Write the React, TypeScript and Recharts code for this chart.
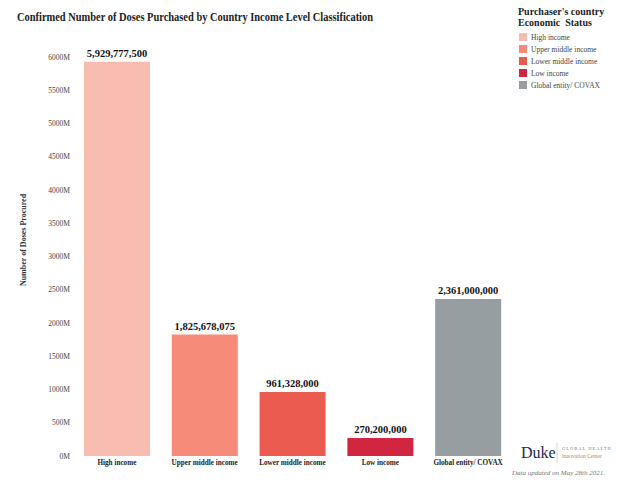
import { BarChart, Bar, XAxis, YAxis, Cell, LabelList } from 'recharts';

// 所得区分ごとの購入ドーズ数（百万単位）
const categories = ['High income', 'Upper middle income', 'Lower middle income', 'Low income', 'Global entity/ COVAX'];
const doses = [5929.7775, 1825.678075, 961.328, 270.2, 2361];
const doseLabels = ['5,929,777,500', '1,825,678,075', '961,328,000', '270,200,000', '2,361,000,000'];
const colors = ['#f8bcb0', '#f58b78', '#ec5b4f', '#d2253f', '#969ea2'];
const yTicks = [0, 500, 1000, 1500, 2000, 2500, 3000, 3500, 4000, 4500, 5000, 5500, 6000];

const data = categories.map((name, i) => ({ name, value: doses[i], label: doseLabels[i] }));

const serif = '"Liberation Serif", "DejaVu Serif", serif';

// 凡例（チャートの余白に影響しないよう外側に配置）
function LegendBox() {
  return (
    <div style={{ position: 'absolute', left: 518, top: 6, width: 120, fontFamily: serif }}>
      <div style={{ fontWeight: 'bold', fontSize: 10, lineHeight: '11px', color: '#222', marginBottom: 3 }}>
        Purchaser's country
        <br />
        Economic&nbsp; Status
      </div>
      {categories.map((c, i) => (
        <div key={c} style={{ display: 'flex', alignItems: 'center', height: 12 }}>
          <span style={{ display: 'inline-block', width: 8, height: 8, background: colors[i], marginRight: 4, marginLeft: 1 }} />
          <span style={{ fontSize: 7.5, color: '#444' }}>{c}</span>
        </div>
      ))}
    </div>
  );
}

export default function App() {
  return (
    <div style={{ position: 'absolute', left: 0, top: 0, width: 640, height: 489, background: '#fff', fontFamily: serif }}>
      <BarChart
        width={640}
        height={489}
        data={data}
        margin={{ top: 57, right: 128, bottom: 0, left: 0 }}
        barCategoryGap="12.5%"
      >
        <YAxis
          width={73}
          domain={[0, 6000]}
          ticks={yTicks}
          axisLine={false}
          tickLine={false}
          tickSize={0}
          tickMargin={3}
          tickFormatter={(v: number) => `${v}M`}
          tick={{ fontSize: 7.5, fill: '#444', fontFamily: serif }}
        />
        <XAxis
          dataKey="name"
          height={33}
          axisLine={false}
          tickLine={false}
          tickSize={0}
          tickMargin={4}
          interval={0}
          tick={{ fontSize: 7.2, fill: '#222', fontWeight: 'bold', fontFamily: serif }}
        />
        <Bar dataKey="value" isAnimationActive={false}>
          {data.map((d, i) => (
            <Cell key={d.name} fill={colors[i]} />
          ))}
          <LabelList
            dataKey="label"
            position="top"
            offset={5}
            style={{ fontSize: 10.5, fontWeight: 'bold', fill: '#111', fontFamily: serif }}
          />
        </Bar>
      </BarChart>

      <LegendBox />

      <svg width={640} height={489} style={{ position: 'absolute', left: 0, top: 0, pointerEvents: 'none' }}>
        <text x={17} y={21} fontSize={13} fontWeight="bold" fill="#222" fontFamily={serif} textLength={356} lengthAdjust="spacingAndGlyphs">
          Confirmed Number of Doses Purchased by Country Income Level Classification
        </text>
        <text
          transform="translate(26, 240) rotate(-90)"
          textAnchor="middle"
          fontSize={8}
          fontWeight="bold"
          fill="#333"
          fontFamily={serif}
        >
          Number of Doses Procured
        </text>
        <text x={521} y={458} fontSize={16} fill="#1c2a55" fontFamily={serif}>Duke</text>
        <line x1={557} y1={443} x2={557} y2={463} stroke="#c8c8c8" strokeWidth={0.8} />
        <text x={562} y={450} fontSize={4.5} fill="#6a7590" fontFamily={serif} letterSpacing={1}>GLOBAL HEALTH</text>
        <text x={562} y={458} fontSize={5.5} fill="#c48a45" fontFamily={serif}>Innovation Center</text>
        <text x={512} y={475} fontSize={7} fontStyle="italic" fill="#777" fontFamily={serif}>
          Data updated on May 28th 2021.
        </text>
      </svg>
    </div>
  );
}
